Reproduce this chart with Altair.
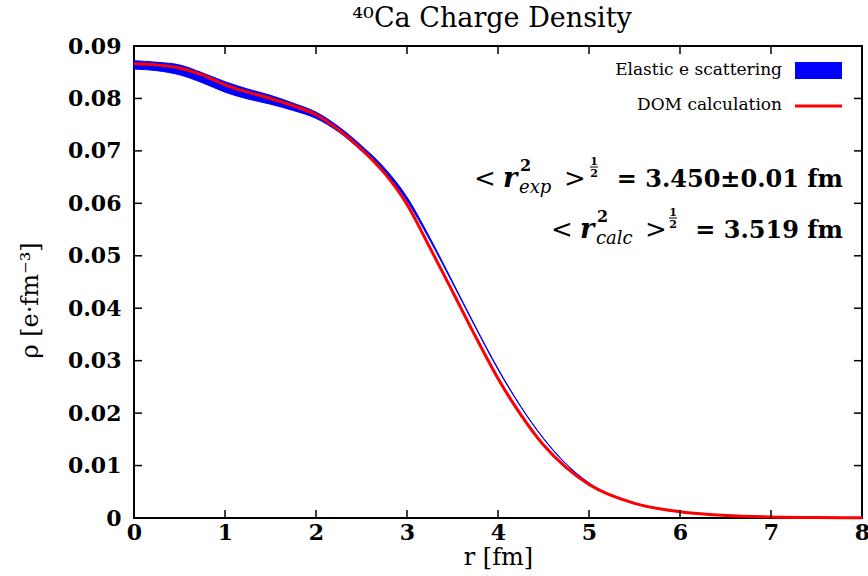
import altair as alt
import pandas as pd

# ---- data ----
r = [0, 0.25, 0.5, 0.75, 1, 1.25, 1.5, 1.75, 2, 2.25, 2.5, 2.75, 3, 3.25, 3.5,
     3.75, 4, 4.25, 4.5, 4.75, 5, 5.5, 6, 6.5, 7, 7.5, 8]
dom = [0.0866, 0.0864, 0.0858, 0.0845, 0.0826, 0.0812, 0.0800, 0.0786, 0.0769,
       0.0740, 0.0703, 0.0658, 0.0598, 0.0516, 0.0432, 0.0347, 0.0266, 0.0197,
       0.0139, 0.0096, 0.0064, 0.0028, 0.0012, 0.0005, 0.0002, 0.0001, 0.00005]
exp_lo = [0.0856, 0.0853, 0.0845, 0.0830, 0.0812, 0.0799, 0.0789, 0.0777, 0.0762,
          0.0736, 0.0700, 0.0660, 0.0605, 0.0530, 0.0448, 0.0364, 0.0283, 0.0212,
          0.0151, 0.0102, 0.0066, 0.0028, 0.0011, 0.0005, 0.0002, 0.0001, 0.00005]
exp_hi = [0.0872, 0.0869, 0.0864, 0.0849, 0.0832, 0.0818, 0.0806, 0.0791, 0.0774,
          0.0746, 0.0710, 0.0668, 0.0612, 0.0535, 0.0451, 0.0366, 0.0285, 0.0213,
          0.0152, 0.0103, 0.0067, 0.0029, 0.0012, 0.0005, 0.0002, 0.0001, 0.00005]
x_ticks = [1, 2, 3, 4, 5, 6, 7]
y_ticks = [0.01, 0.02, 0.03, 0.04, 0.05, 0.06, 0.07, 0.08]
x_labels = [0, 1, 2, 3, 4, 5, 6, 7, 8]
y_labels = [0, 0.01, 0.02, 0.03, 0.04, 0.05, 0.06, 0.07, 0.08, 0.09]

W, H = 728, 472
SERIF = "DejaVu Serif"
XT = "r [fm]"
YT = "ρ [e·fm⁻³]"

df = pd.DataFrame({"r": r, "dom": dom, "lo": exp_lo, "hi": exp_hi})
xs = alt.Scale(domain=[0, 8], nice=False, zero=False)
ys = alt.Scale(domain=[0, 0.09], nice=False, zero=False)

xaxis = alt.Axis(values=x_labels, title=XT, ticks=False, domain=False,
                 grid=False, labelFont=SERIF, labelFontWeight="bold",
                 labelFontSize=22, labelColor="black", labelPadding=4,
                 labelFlush=False, labelOverlap=False,
                 labelExpr="format(datum.value, 'd')",
                 titleFont=SERIF, titleFontWeight="normal", titleFontSize=24,
                 titleColor="black", titleY=39, titleBaseline="middle")
yaxis = alt.Axis(values=y_labels, title=YT, ticks=False, domain=False,
                 grid=False, labelFont=SERIF, labelFontWeight="bold",
                 labelFontSize=22, labelColor="black", labelPadding=13,
                 labelFlush=False, labelOverlap=False,
                 labelExpr="datum.value == 0 ? '0' : format(datum.value, '.2f')",
                 titleFont=SERIF, titleFontWeight="normal", titleFontSize=24,
                 titleColor="black", titleX=-104, titleY=254, titleAngle=-90,
                 titleBaseline="middle", titleAlign="center")

band = alt.Chart(df).mark_area(color="#0000ff", stroke="#0000ff", strokeWidth=1,
                               opacity=1, interpolate="monotone").encode(
    x=alt.X("r:Q", scale=xs, axis=xaxis),
    y=alt.Y("lo:Q", scale=ys, axis=yaxis),
    y2="hi:Q",
)
line = alt.Chart(df).mark_line(color="#ff0000", strokeWidth=3,
                               interpolate="monotone").encode(
    x=alt.X("r:Q", scale=xs, title=XT), y=alt.Y("dom:Q", scale=ys, title=YT))

xt = pd.DataFrame({"t": x_ticks})
yt = pd.DataFrame({"t": y_ticks})
tick_b = alt.Chart(xt).mark_rule(color="black", strokeWidth=1.5).encode(
    x=alt.X("t:Q", scale=xs, title=XT), y=alt.value(H), y2=alt.value(H - 8))
tick_t = alt.Chart(xt).mark_rule(color="black", strokeWidth=1.5).encode(
    x=alt.X("t:Q", scale=xs, title=XT), y=alt.value(0), y2=alt.value(8))
tick_l = alt.Chart(yt).mark_rule(color="black", strokeWidth=1.5).encode(
    y=alt.Y("t:Q", scale=ys, title=YT), x=alt.value(0), x2=alt.value(8))
tick_r = alt.Chart(yt).mark_rule(color="black", strokeWidth=1.5).encode(
    y=alt.Y("t:Q", scale=ys, title=YT), x=alt.value(W), x2=alt.value(W - 8))

one = pd.DataFrame({"a": [0]})


def txt(s, x, y, size, weight="normal", style="normal", align="left",
        baseline="alphabetic"):
    return alt.Chart(one).mark_text(
        text=s, font=SERIF, fontSize=size, fontWeight=weight, fontStyle=style,
        align=align, baseline=baseline, color="black").encode(
        x=alt.value(x), y=alt.value(y))


# title drawn as text so it sits exactly where the reference has it
title = txt("⁴⁰Ca Charge Density", 358, -27, 27, align="center",
            baseline="middle")

# legend
leg = [
    txt("Elastic e scattering", 648, 24, 17, align="right", baseline="middle"),
    alt.Chart(one).mark_rect(color="#0000ff").encode(
        x=alt.value(661), x2=alt.value(708), y=alt.value(16), y2=alt.value(33)),
    txt("DOM calculation", 648, 59, 17, align="right", baseline="middle"),
    alt.Chart(one).mark_rule(color="#ff0000", strokeWidth=3).encode(
        x=alt.value(661), x2=alt.value(708), y=alt.value(60)),
]


# annotations  < r^2_sub >^(1/2) = value
def rms(ox, base, sub, value, gt_x, half_x):
    return [
        txt("<", ox, base, 26),
        txt("r", ox + 29, base, 27, weight="bold", style="italic"),
        txt("2", ox + 46, base - 16, 16, weight="bold"),
        txt(sub, ox + 45, base + 6, 18, style="italic"),
        txt(">", gt_x, base, 26),
        txt("1", half_x, base - 22, 11, weight="bold", align="center"),
        alt.Chart(one).mark_rule(color="black", strokeWidth=1).encode(
            x=alt.value(half_x - 4), x2=alt.value(half_x + 4),
            y=alt.value(base - 20)),
        txt("2", half_x, base - 10, 11, weight="bold", align="center"),
        txt(value, 709, base, 24, weight="bold", align="right"),
    ]


ann = rms(340, 141, "exp", "= 3.450±0.01 fm", 430, 460) + \
      rms(417, 192, "calc", "= 3.519 fm", 511, 539)

chart = alt.layer(band, line, tick_b, tick_t, tick_l, tick_r, title, *leg,
                  *ann).properties(
    width=W, height=H,
    autosize=alt.AutoSizeParams(type="none"),
    padding={"left": 134, "top": 46, "right": 6, "bottom": 58},
    background="white",
).configure_view(stroke="black", strokeWidth=2)

chart.save("out.html", embed_options={"renderer": "svg", "actions": False})
